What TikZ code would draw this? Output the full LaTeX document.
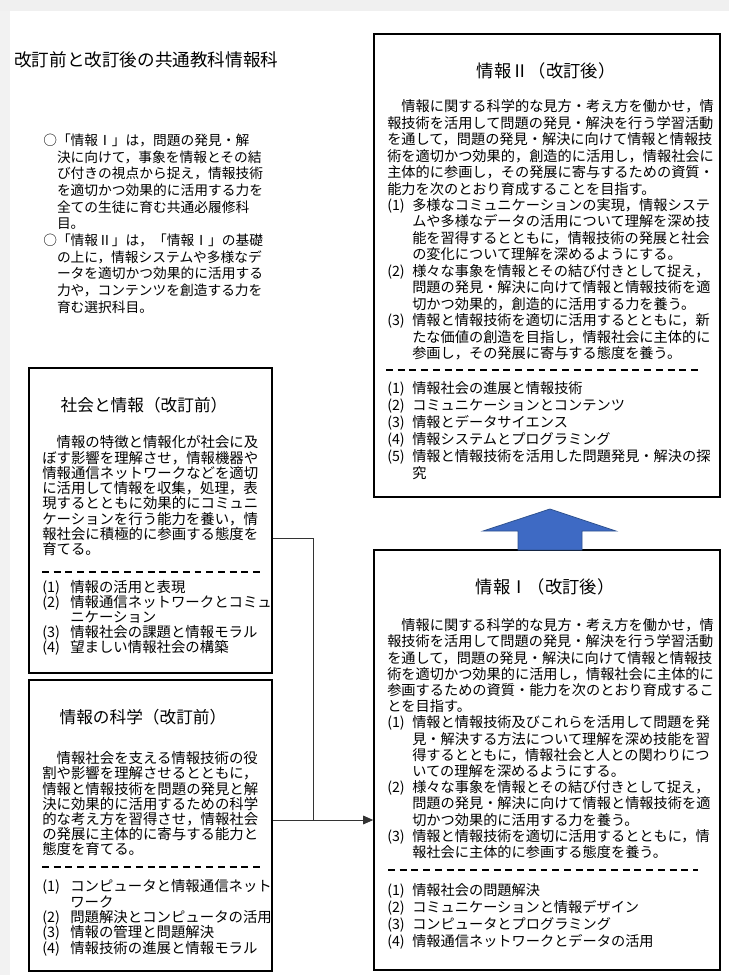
\documentclass[tikz,border=0pt]{standalone}
\usepackage{fontspec}
\setmainfont{Noto Sans CJK JP}
\usetikzlibrary{arrows.meta,fit}
\newcommand\fst{\rule{0pt}{1em}}
\newcommand\lab[2]{\makebox[#1][l]{#2}}
\newcommand\ind[1]{\hspace*{#1}}
\tikzset{
  boxst/.style={draw=black, line width=1.2pt, inner sep=0pt},
  ttlst/.style={inner sep=0pt, font=\fontsize{#1}{14pt}\selectfont},
  txt/.style={inner sep=0pt, anchor=north west, align=left},
  dsh/.style={line width=1.3pt, dash pattern=on 5.2pt off 3.6pt},
  conn/.style={line width=0.7pt, draw=black!80},
  fR/.style={font={\fontsize{10.65pt}{#1}\selectfont\lineskiplimit=-50pt}},
  fL/.style={font={\fontsize{10.8pt}{#1}\selectfont\lineskiplimit=-50pt}},
}
\definecolor{arrfill}{RGB}{62,106,196}
\definecolor{arredge}{RGB}{47,82,143}
\begin{document}
\begin{tikzpicture}[x=0.75pt,y=-0.75pt]
\useasboundingbox (0,0) rectangle (729,975);
\fill[white] (0,0) rectangle (729,975);
\fill[black!6] (0,0) rectangle (729,11);
\fill[black!5] (0,11) rectangle (10,975);

% page title
\node[inner sep=0pt, anchor=west, font=\fontsize{13.2pt}{15pt}\selectfont] (ttl) at (14,60) {改訂前と改訂後の共通教科情報科};

% intro
\node[txt, font={\fontsize{10.3pt}{12.5pt}\selectfont\lineskiplimit=-50pt}] (intro) at (43,131.5) {\fst○「情報Ⅰ」は，問題の発見・解\\
\ind{1em}決に向けて，事象を情報とその結\\
\ind{1em}び付きの視点から捉え，情報技術\\
\ind{1em}を適切かつ効果的に活用する力を\\
\ind{1em}全ての生徒に育む共通必履修科\\
\ind{1em}目。\\
○「情報Ⅱ」は，「情報Ⅰ」の基礎\\
\ind{1em}の上に，情報システムや多様なデ\\
\ind{1em}ータを適切かつ効果的に活用する\\
\ind{1em}力や，コンテンツを創造する力を\\
\ind{1em}育む選択科目。};

% boxes
\node[boxst, fit={(374,34) (720,497)}] (infoII) {};
\node[boxst, fit={(374,550) (720,970)}] (infoI) {};
\node[boxst, fit={(29,368) (272,673)}] (soc) {};
\node[boxst, fit={(29,680) (272,971)}] (sci) {};

% block arrow
\filldraw[fill=arrfill, draw=arredge, line width=0.6pt] (550,509) -- (616,531) -- (582,531) -- (582,550) -- (518,550) -- (518,531) -- (483,531) -- cycle;

% titles
\node[ttlst=13pt] (infoIIt) at (546,71) {情報Ⅱ（改訂後）};
\node[ttlst=13pt] (infoIt) at (545,587) {情報Ⅰ（改訂後）};
\node[ttlst=12.5pt] (soct) at (144,405) {社会と情報（改訂前）};
\node[ttlst=12.5pt] (scit) at (143,717) {情報の科学（改訂前）};

% info II text
\node[txt, fR=12.35pt] (infoIIp) at (387,97.2) {\fst　情報に関する科学的な見方・考え方を働かせ，情\\
報技術を活用して問題の発見・解決を行う学習活動\\
を通して，問題の発見・解決に向けて情報と情報技\\
術を適切かつ効果的，創造的に活用し，情報社会に\\
主体的に参画し，その発展に寄与するための資質・\\
能力を次のとおり育成することを目指す。\\
\lab{18.75pt}{(1)}多様なコミュニケーションの実現，情報システ\\
\ind{18.75pt}ムや多様なデータの活用について理解を深め技\\
\ind{18.75pt}能を習得するとともに，情報技術の発展と社会\\
\ind{18.75pt}の変化について理解を深めるようにする。\\
\lab{18.75pt}{(2)}様々な事象を情報とその結び付きとして捉え，\\
\ind{18.75pt}問題の発見・解決に向けて情報と情報技術を適\\
\ind{18.75pt}切かつ効果的，創造的に活用する力を養う。\\
\lab{18.75pt}{(3)}情報と情報技術を適切に活用するとともに，新\\
\ind{18.75pt}たな価値の創造を目指し，情報社会に主体的に\\
\ind{18.75pt}参画し，その発展に寄与する態度を養う。};
\draw[dsh] (386,370) -- (700,370);
\node[txt, fR=12.75pt] (infoIIl) at (387,379.2) {\fst\lab{18.75pt}{(1)}情報社会の進展と情報技術\\
\lab{18.75pt}{(2)}コミュニケーションとコンテンツ\\
\lab{18.75pt}{(3)}情報とデータサイエンス\\
\lab{18.75pt}{(4)}情報システムとプログラミング\\
\lab{18.75pt}{(5)}情報と情報技術を活用した問題発見・解決の探\\
\ind{18.75pt}究};

% info I text
\node[txt, fR=12.15pt] (infoIp) at (387,616.2) {\fst　情報に関する科学的な見方・考え方を働かせ，情\\
報技術を活用して問題の発見・解決を行う学習活動\\
を通して，問題の発見・解決に向けて情報と情報技\\
術を適切かつ効果的に活用し，情報社会に主体的に\\
参画するための資質・能力を次のとおり育成するこ\\
とを目指す。\\
\lab{18.75pt}{(1)}情報と情報技術及びこれらを活用して問題を発\\
\ind{18.75pt}見・解決する方法について理解を深め技能を習\\
\ind{18.75pt}得するとともに，情報社会と人との関わりにつ\\
\ind{18.75pt}いての理解を深めるようにする。\\
\lab{18.75pt}{(2)}様々な事象を情報とその結び付きとして捉え，\\
\ind{18.75pt}問題の発見・解決に向けて情報と情報技術を適\\
\ind{18.75pt}切かつ効果的に活用する力を養う。\\
\lab{18.75pt}{(3)}情報と情報技術を適切に活用するとともに，情\\
\ind{18.75pt}報社会に主体的に参画する態度を養う。};
\draw[dsh] (388,870) -- (698,870);
\node[txt, fR=12.75pt] (infoIl) at (387,881.2) {\fst\lab{18.75pt}{(1)}情報社会の問題解決\\
\lab{18.75pt}{(2)}コミュニケーションと情報デザイン\\
\lab{18.75pt}{(3)}コンピュータとプログラミング\\
\lab{18.75pt}{(4)}情報通信ネットワークとデータの活用};

% society text
\node[txt, fL=11.475pt] (socp) at (42,433.1) {\fst　情報の特徴と情報化が社会に及\\
ぼす影響を理解させ，情報機器や\\
情報通信ネットワークなどを適切\\
に活用して情報を収集，処理，表\\
現するとともに効果的にコミュニ\\
ケーションを行う能力を養い，情\\
報社会に積極的に参画する態度を\\
育てる。};
\draw[dsh] (42,572) -- (260,572);
\node[txt, fL=11.25pt] (socl) at (42,578.1) {\fst\lab{21pt}{(1)}情報の活用と表現\\
\lab{21pt}{(2)}情報通信ネットワークとコミュ\\
\ind{21pt}ニケーション\\
\lab{21pt}{(3)}情報社会の課題と情報モラル\\
\lab{21pt}{(4)}望ましい情報社会の構築};

% science text
\node[txt, fL=11.4pt] (scip) at (42,749.1) {\fst　情報社会を支える情報技術の役\\
割や影響を理解させるとともに，\\
情報と情報技術を問題の発見と解\\
決に効果的に活用するための科学\\
的な考え方を習得させ，情報社会\\
の発展に主体的に寄与する能力と\\
態度を育てる。};
\draw[dsh] (42,867) -- (260,867);
\node[txt, fL=11.5pt] (scil) at (42,877.1) {\fst\lab{21pt}{(1)}コンピュータと情報通信ネット\\
\ind{21pt}ワーク\\
\lab{21pt}{(2)}問題解決とコンピュータの活用\\
\lab{21pt}{(3)}情報の管理と問題解決\\
\lab{21pt}{(4)}情報技術の進展と情報モラル};

% connectors
\coordinate (jA) at (313,538);
\coordinate (jB) at (313,820);
\draw[conn] (soc.east |- jA) -- (jA) -- (jB);
\draw[conn, -{Triangle[length=7.5pt,width=6.5pt]}] (sci.east |- jB) -- (infoI.west |- jB);
\end{tikzpicture}
\end{document}
